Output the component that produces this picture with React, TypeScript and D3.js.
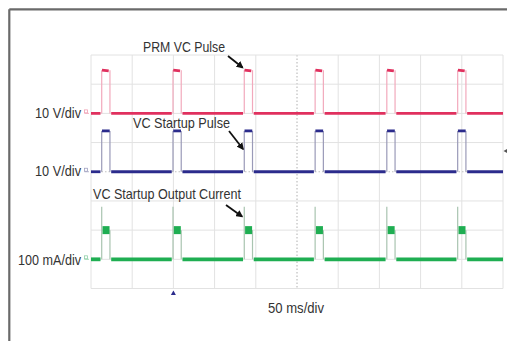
import React from "react";
import * as d3 from "d3";

// ---- data ----
const timeSpanMs = [0, 500]; // 10 div x 50 ms/div
const divisionsX = d3.range(0, 11);
const divisionsY = d3.range(-4, 5);
const pulseStartsMs = [13, 99.5, 186, 272, 359, 445];
const pulseWidthMs = 10;

const channelNames = ["PRM VC Pulse", "VC Startup Pulse", "VC Startup Output Current"];
const channelScaleLabels = ["10 V/div", "10 V/div", "100 mA/div"];
const channelUnitsPerDiv = [10, 10, 100];
const channelOffsetDiv = [2, 0, -3];
const channelHigh = [14.8, 14, 100];
const channelSpike: (number | null)[] = [null, null, 180];
const timeBaseLabel = "50 ms/div";

// ---- styles ----
const W = 507, H = 341;
const PLOT = { left: 91, right: 503, top: 55, bottom: 288.5 };
const COLORS = [
  { main: "#e0305e", edge: "#f2a9bc", marker: "#f0a0b4" },
  { main: "#2b2b8c", edge: "#9a9ab8", marker: "#a0a0c0" },
  { main: "#1fae52", edge: "#a9c4b0", marker: "#8fd0a8" },
];
const FONT = "'Liberation Sans Narrow', 'Liberation Sans', Arial, sans-serif";
const TEXT_COLOR = "#333";

export default function App() {
  const x = d3.scaleLinear().domain(timeSpanMs).range([PLOT.left, PLOT.right]);
  const yDiv = d3.scaleLinear().domain([-4, 4]).range([PLOT.bottom, PLOT.top]);
  const line = d3.line<[number, number]>().x((d) => d[0]).y((d) => d[1]);
  const gap = 1.5;

  const traces = channelNames.map((name, ci) => {
    const yv = (v: number) => yDiv(channelOffsetDiv[ci] + v / channelUnitsPerDiv[ci]);
    const base = yv(0);
    const high = yv(channelHigh[ci]);
    const spike = channelSpike[ci];
    const baseSegs: [number, number][][] = [];
    let prev = timeSpanMs[0] - gap;
    pulseStartsMs.forEach((s) => {
      baseSegs.push([[x(prev + gap), base], [x(s - gap), base]]);
      prev = s + pulseWidthMs;
    });
    baseSegs.push([[x(prev + gap), base], [x(timeSpanMs[1]), base]]);
    const edges: [number, number][][] = [];
    const tops: [number, number][][] = [];
    pulseStartsMs.forEach((s) => {
      const e = s + pulseWidthMs;
      edges.push([[x(s), base], [x(s), spike != null ? yv(spike) : high]]);
      edges.push([[x(e), high], [x(e), base]]);
      if (ci === 0) {
        tops.push([[x(s + 0.3), high], [x(e - 1.5), high + 0.8]]);
      } else if (ci === 1) {
        tops.push([[x(s + 0.3), high], [x(e - 0.3), high]]);
      } else {
        tops.push([[x(s + 1), high], [x(e - 0.5), high]]);
      }
    });
    return { ci, base, high, baseSegs, edges, tops };
  });

  const labelY = [117.5, 176, 264.5];
  const nameAnn = [
    { x: 143, y: 52, len: 82, ax1: [228, 56], ax2: [242.5, 67.5] },
    { x: 133, y: 128, len: 97, ax1: [229, 131], ax2: [243, 149] },
    { x: 93, y: 199, len: 148, ax1: [226, 205], ax2: [242, 216.5] },
  ];
  const scaleLabelLen = [46, 46, 63];

  return (
    <svg width={W} height={H} style={{ position: "absolute", left: 0, top: 0, background: "#fff" }}>
      <defs>
        <marker id="ah" viewBox="0 0 10 10" refX="8" refY="5" markerWidth="4" markerHeight="4" orient="auto">
          <path d="M0,0 L10,5 L0,10 z" fill="#111" />
        </marker>
      </defs>
      <rect x={0} y={0} width={W} height={H} fill="#fff" />
      {/* frame */}
      <line x1={9.3} y1={9.3} x2={W} y2={9.3} stroke="#6a6a6a" strokeWidth={2.2} />
      <line x1={9.3} y1={9.3} x2={9.3} y2={H} stroke="#6a6a6a" strokeWidth={2.2} />

      {/* grid */}
      {divisionsX.map((d) => (
        <line key={"gx" + d} x1={x(d * 50)} x2={x(d * 50)} y1={PLOT.top} y2={PLOT.bottom}
          stroke={d === 5 ? "#b0b0b0" : "#e2e2e2"} strokeWidth={1}
          strokeDasharray={d === 5 ? "1.5,2" : undefined} />
      ))}
      {divisionsY.map((d) => (
        <line key={"gy" + d} x1={PLOT.left} x2={PLOT.right} y1={yDiv(d)} y2={yDiv(d)}
          stroke={d === 0 ? "#c0c0c0" : "#e2e2e2"} strokeWidth={1}
          strokeDasharray={d === 0 ? "1.5,2" : undefined} />
      ))}

      {/* traces */}
      {traces.map((t) => (
        <g key={"t" + t.ci}>
          {t.edges.map((e, i) => (
            <path key={"e" + i} d={line(e as any) || ""} stroke={COLORS[t.ci].edge} strokeWidth={1.2} fill="none" />
          ))}
          {t.baseSegs.map((s, i) => (
            <path key={"b" + i} d={line(s as any) || ""} stroke={COLORS[t.ci].main}
              strokeWidth={t.ci === 2 ? 3.8 : 2.8} fill="none" />
          ))}
          {t.tops.map((s, i) => (
            <path key={"p" + i} d={line(s as any) || ""} stroke={COLORS[t.ci].main}
              strokeWidth={t.ci === 2 ? 8 : 2.8} fill="none" />
          ))}
          <rect x={84.5} y={t.base - 3.5} width={3} height={3} fill="none" stroke={COLORS[t.ci].marker} strokeWidth={0.8} />
          <line x1={84.5} x2={89} y1={t.base} y2={t.base} stroke={COLORS[t.ci].marker} strokeWidth={0.8} />
        </g>
      ))}

      {/* markers */}
      <path d={`M${x(100) - 2.5},${295} L${x(100)},${290.5} L${x(100) + 2.5},${295} Z`} fill="#2b2b8c" />
      <path d={`M${PLOT.right + 0.5},151 L${PLOT.right + 4},149 L${PLOT.right + 4},153 Z`} fill="#555" />

      {/* annotations */}
      {nameAnn.map((a, i) => (
        <g key={"a" + i}>
          <text x={a.x} y={a.y} fontFamily={FONT} fontSize={14.5} fill={TEXT_COLOR}
            textLength={a.len} lengthAdjust="spacingAndGlyphs">{channelNames[i]}</text>
          <line x1={a.ax1[0]} y1={a.ax1[1]} x2={a.ax2[0]} y2={a.ax2[1]} stroke="#111" strokeWidth={1.8} markerEnd="url(#ah)" />
        </g>
      ))}
      {channelScaleLabels.map((l, i) => (
        <text key={"s" + i} x={81 - scaleLabelLen[i]} y={labelY[i]} fontFamily={FONT} fontSize={14}
          fill={TEXT_COLOR} textLength={scaleLabelLen[i]} lengthAdjust="spacingAndGlyphs">{l}</text>
      ))}
      <text x={268} y={313} fontFamily={FONT} fontSize={14} fill={TEXT_COLOR}
        textLength={56} lengthAdjust="spacingAndGlyphs">{timeBaseLabel}</text>
    </svg>
  );
}
